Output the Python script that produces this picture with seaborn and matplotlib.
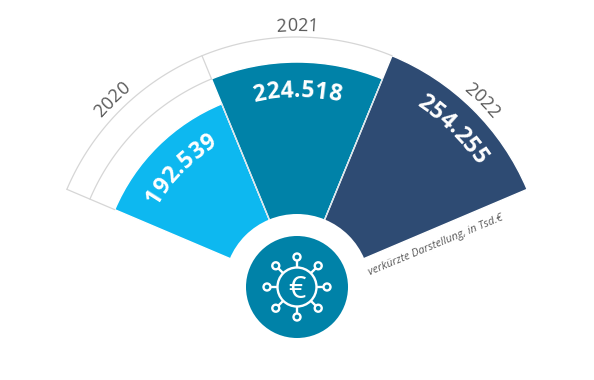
import numpy as np
import matplotlib
matplotlib.use('Agg')
import matplotlib.pyplot as plt
from matplotlib.patches import Circle
from matplotlib.font_manager import FontProperties
import seaborn as sns

sns.set_theme(style='white')
plt.rcParams['font.family'] = ['Open Sans', 'DejaVu Sans']

# data
years = ['2020', '2021', '2022']
values = [192539, 224518, 254255]
value_labels = ['192.539', '224.518', '254.255']
colors = ['#0DB8F0', '#0082A8', '#2E4B73']
note = 'verkürzte Darstellung, in Tsd.€'

# layout in pixels
W, H = 594, 380
CX, CY = 297, 287
SPAN = np.radians(44.67)
px_per_value = 52 / (values[2] - values[0])
r_origin = values[0] - 198 / px_per_value   # value drawn at the fan centre
r_max = r_origin + 270 / px_per_value
LINE = '#d6d6d6'
GREY = '#5a5a5a'
TEAL = '#0082A8'

theta = np.array([-SPAN, 0, SPAN])

fig = plt.figure(figsize=(W / 100, H / 100), dpi=100)
ax = fig.add_axes([(CX - 270) / W, (H - CY - 270) / H, 540 / W, 540 / H], projection='polar')
ax.set_theta_zero_location('N')
ax.set_theta_direction(-1)

sns.barplot(x=theta, y=values, hue=years, palette=colors, native_scale=True,
            width=1, dodge=False, legend=False, saturation=1, ax=ax)
ax.set_ylim(r_origin, r_max)
ax.set_xlim(-np.pi, np.pi)
ax.set_xlabel('')
ax.set_ylabel('')
ax.set_xticks([])
ax.set_yticks([])
ax.grid(False)
ax.spines['polar'].set_visible(False)
ax.patch.set_alpha(0)


def arc(t0, t1, v):
    tt = np.linspace(t0, t1, 100)
    ax.plot(tt, np.full_like(tt, v), color=LINE, lw=0.9, zorder=3)


def radial(t, v0, v1, color=LINE):
    ax.plot([t, t], [v0, v1], color=color, lw=0.9, zorder=3)


left, b1, b2, right = -1.5 * SPAN, -0.5 * SPAN, 0.5 * SPAN, 1.5 * SPAN
arc(left, b1, values[1])          # 2021 level above the 2020 bar
arc(left, b2, values[2])          # 2022 level above 2020 and 2021
radial(left, values[0], values[2])
radial(b1, values[1], values[2])
radial(b1, r_origin, values[0], '#d8e4ea')
radial(b2, r_origin, values[1], '#d8e4ea')

# overlay in pixel coordinates: hub, icon, texts
ov = fig.add_axes([0, 0, 1, 1])
ov.set_xlim(0, W)
ov.set_ylim(H, 0)
ov.axis('off')
ov.patch.set_alpha(0)

ov.add_patch(Circle((CX, CY), 73, fc='white', ec='none', zorder=2))
ov.add_patch(Circle((CX, CY), 51, fc=TEAL, ec='none', zorder=3))

# icon
ov.add_patch(Circle((CX, CY), 19.5, fc='none', ec='white', lw=1.7, zorder=4))
for a in np.radians(np.arange(0, 360, 45)):
    dx, dy = np.sin(a), -np.cos(a)
    ov.plot([CX + 19.5 * dx, CX + 26.5 * dx], [CY + 19.5 * dy, CY + 26.5 * dy],
            color='white', lw=1.7, zorder=4, solid_capstyle='butt')
    ov.add_patch(Circle((CX + 30 * dx, CY + 30 * dy), 3.5, fc='none', ec='white', lw=1.7, zorder=4))
ov.text(CX - 0.5, CY, '€', color='white', fontsize=22, ha='center', va='center_baseline', zorder=5)


def text_on_arc(s, ang, radius, fp, color, spacing=0.0):
    # one glyph at a time along a circle around the fan centre
    rend = fig.canvas.get_renderer()
    width = lambda t: rend.get_text_width_height_descent(t, fp, False)[0] + spacing * len(t)
    total = width(s)
    for i, ch in enumerate(s):
        mid = width(s[:i + 1]) - width(ch) / 2 - total / 2
        a = ang + mid / radius
        ov.text(CX + radius * np.sin(a), CY - radius * np.cos(a), ch, fontproperties=fp, color=color,
                rotation=-np.degrees(a), rotation_mode='anchor', ha='center', va='baseline', zorder=5)


year_fp = FontProperties(family='Open Sans', size=13)
value_fp = FontProperties(family='Open Sans', weight='bold', size=16.5)
value_radius = [162, 190, 217]
year_radius = [258, 256, 258]
for t, y, lab, vr, yr in zip(theta, years, value_labels, value_radius, year_radius):
    text_on_arc(y, t, yr, year_fp, GREY)
    text_on_arc(lab, t, vr, value_fp, 'white', spacing=0.4)

ov.text(370, 275, note, color=GREY, fontsize=7.8, style='italic', rotation=22.5,
        rotation_mode='anchor', ha='left', va='baseline', zorder=5)

fig.savefig('out.png', dpi=100)
